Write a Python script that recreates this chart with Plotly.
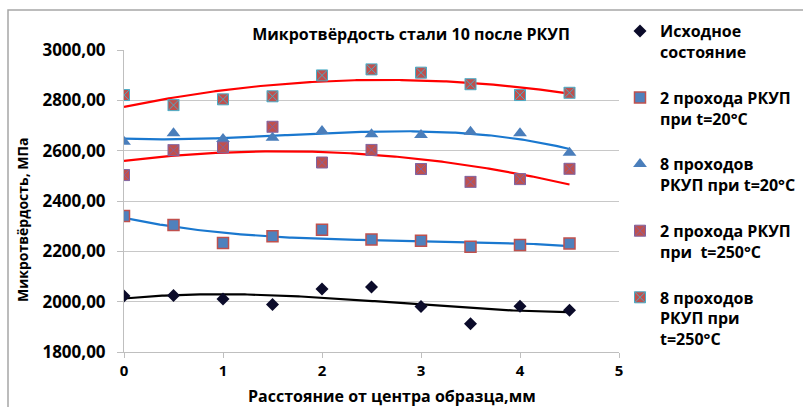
import numpy as np
import plotly.graph_objects as go

# ---- data ----
x_mm = [0, 0.5, 1, 1.5, 2, 2.5, 3, 3.5, 4, 4.5]
initial = [2023, 2025, 2011, 1989, 2050, 2058, 1981, 1912, 1982, 1966]
p2_20 = [2340, 2305, 2233, 2260, 2286, 2247, 2242, 2218, 2225, 2231]
p8_20 = [2635, 2669, 2646, 2651, 2678, 2665, 2662, 2675, 2669, 2592]
p2_250 = [2503, 2602, 2613, 2695, 2553, 2603, 2527, 2476, 2487, 2528]
p8_250 = [2821, 2781, 2804, 2816, 2899, 2923, 2910, 2864, 2821, 2830]

names = ["Исходное<br>состояние",
         "2 прохода РКУП<br>при t=20°C",
         "8 проходов<br>РКУП при t=20°C",
         "2 прохода РКУП<br>при  t=250°C",
         "8 проходов<br>РКУП при<br>t=250°C"]

y_ticks = [1800, 2000, 2200, 2400, 2600, 2800, 3000]
y_ticktext = ["1800,00", "2000,00", "2200,00", "2400,00", "2600,00", "2800,00", "3000,00"]
x_ticks = [0, 1, 2, 3, 4, 5]

FONT = "Open Sans"
series = [initial, p2_20, p8_20, p2_250, p8_250]
markers = [
    dict(symbol="diamond", size=10, color="#0B0B2A", line=dict(width=0)),
    dict(symbol="square", size=11, color="#4F81BD", line=dict(width=1.5, color="#C0504D")),
    dict(symbol="triangle-up", size=12, color="#4A7EBB", line=dict(width=0)),
    dict(symbol="square-x", size=11, color="#C0504D", line=dict(width=1, color="#8064A2")),
    dict(symbol="square-x", size=11, color="#C0504D", line=dict(width=1, color="#4BACC6")),
]
trend_colors = ["#000000", "#1A78CF", "#1A78CF", "#FF0000", "#FF0000"]
trend_orders = [3, 3, 3, 2, 2]

fig = go.Figure()
xs = np.linspace(min(x_mm), max(x_mm), 200)
for vals, col, order in zip(series, trend_colors, trend_orders):
    coef = np.polyfit(x_mm, vals, order)
    fig.add_trace(go.Scatter(x=xs, y=np.polyval(coef, xs), mode="lines",
                             line=dict(color=col, width=2.2), showlegend=False,
                             hoverinfo="skip"))
for i, (vals, mk, nm) in enumerate(zip(series, markers, names)):
    fig.add_trace(go.Scatter(x=x_mm, y=vals, mode="markers", marker=mk, name=nm,
                             legendgroup=str(i)))

fig.update_layout(
    width=803, height=407,
    margin=dict(l=124, r=184, t=50, b=55, autoexpand=False),
    paper_bgcolor="white", plot_bgcolor="white",
    font=dict(family=FONT, color="#000000"),
    title=dict(text="Микротвёрдость стали 10 после РКУП", x=411/803, xanchor="center",
               y=1-34/407, yanchor="middle", yref="container",
               font=dict(family=FONT, size=16, weight="bold", color="#000")),
    legend=dict(x=(620-124)/495, xanchor="left", yref="container", y=1-14/407, yanchor="top",
                font=dict(family=FONT, size=16, weight="bold", color="#000"),
                valign="top", tracegroupgap=22, itemwidth=30, maxheight=400,
                bgcolor="rgba(0,0,0,0)"),
    showlegend=True,
)
fig.update_xaxes(range=[0, 5], tickvals=x_ticks, showgrid=False, zeroline=False,
                 showline=True, linecolor="#BFBFBF", linewidth=1,
                 ticks="outside", ticklen=5, tickcolor="#BFBFBF",
                 tickfont=dict(family=FONT, size=15, weight="bold", color="#000"))
fig.update_yaxes(range=[1800, 3000], tickvals=y_ticks, ticktext=y_ticktext,
                 showgrid=True, gridcolor="#C8C8C8", gridwidth=1, zeroline=False,
                 showline=True, linecolor="#BFBFBF", linewidth=1,
                 ticks="outside", ticklen=6, tickcolor="#BFBFBF", ticklabelstandoff=8,
                 tickfont=dict(family=FONT, size=17, weight="bold", color="#000"))

fig.add_annotation(text="Расстояние от центра образца,мм", xref="paper", yref="paper",
                   x=(392-124)/495, y=(352-396)/302, xanchor="center", yanchor="middle",
                   showarrow=False, font=dict(family=FONT, size=16, weight="bold", color="#000"))
fig.add_annotation(text="Микротвёрдость, МПа", xref="paper", yref="paper",
                   x=(22-124)/495, y=(352-220)/302, xanchor="center", yanchor="middle",
                   textangle=-90, showarrow=False,
                   font=dict(family=FONT, size=14, weight="bold", color="#000"))
fig.add_shape(type="rect", xref="paper", yref="paper",
              x0=(8-124)/495, x1=(820-124)/495, y0=(352-420)/302, y1=(352-10)/302,
              line=dict(color="#A6A6A6", width=1.5), layer="below")

fig.write_html("out.html", config={"displayModeBar": False},
               post_script="document.body.style.margin='0';document.body.style.overflow='hidden';")
